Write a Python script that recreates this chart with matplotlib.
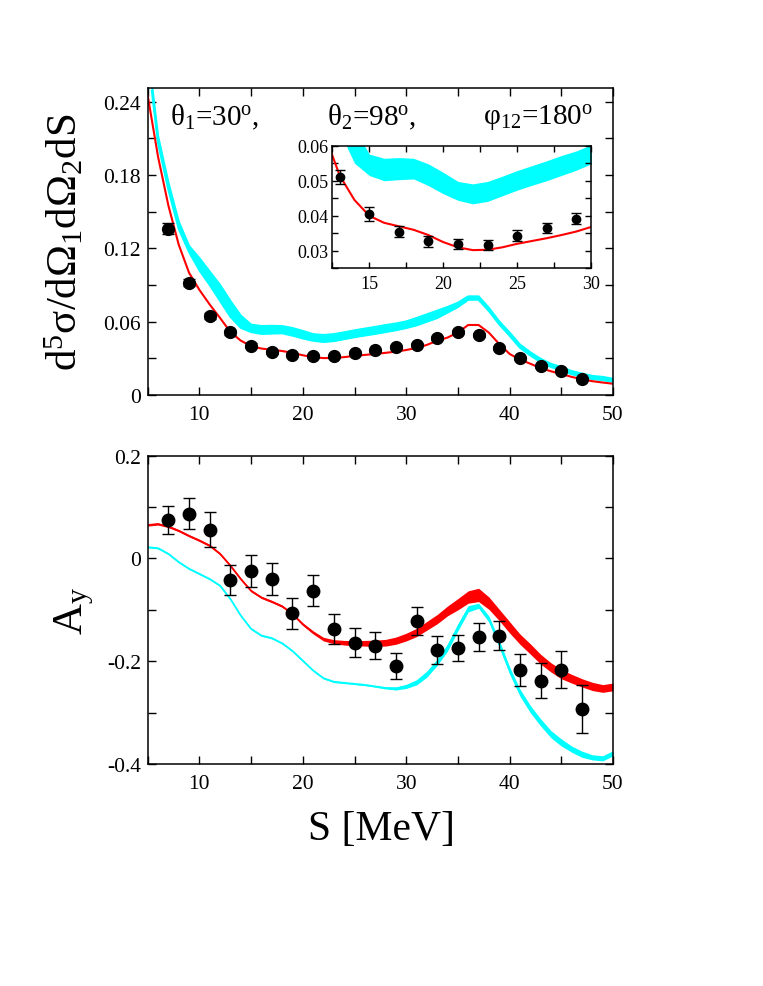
import numpy as np
import matplotlib
matplotlib.use("Agg")
import matplotlib.pyplot as plt
from matplotlib.ticker import MultipleLocator

plt.rcParams['font.family'] = ['Liberation Serif', 'DejaVu Serif']
plt.rcParams['mathtext.fontset'] = 'custom'
plt.rcParams['mathtext.rm'] = 'Liberation Serif'
plt.rcParams['mathtext.it'] = 'Liberation Serif'

# ---- data: cross section (upper panel) ----
s_pts = [7, 9, 11, 13, 15, 17, 19, 21, 23, 25, 27, 29, 31, 33, 35, 37, 39, 41, 43, 45, 47]
xs_pts = [0.136, 0.092, 0.0646, 0.0512, 0.0405, 0.0355, 0.0327, 0.032, 0.0316, 0.0343,
          0.0365, 0.0392, 0.0412, 0.0465, 0.0517, 0.049, 0.0385, 0.030, 0.0234, 0.0197, 0.0129]
xs_err = [0.0045, 0.003, 0.0025, 0.002, 0.0019, 0.0016, 0.0015, 0.0015, 0.0015, 0.0015,
          0.0015, 0.0015, 0.0015, 0.0017, 0.0018, 0.0018, 0.0015, 0.0013, 0.0012, 0.0012, 0.001]

s_red = [5, 6, 7, 8, 9, 10, 11, 12, 13, 14, 15, 16, 17, 18, 19, 20, 21, 22, 23, 24, 25, 26, 27,
         28, 29, 30, 31, 32, 33, 34, 35, 36, 37, 38, 39, 40, 41, 42, 43, 44, 45, 46, 47, 48, 49, 50]
xs_red = [0.245, 0.195, 0.155, 0.123, 0.100, 0.086, 0.074, 0.063, 0.0515, 0.0445, 0.040, 0.038,
          0.037, 0.036, 0.0345, 0.0325, 0.031, 0.0302, 0.0303, 0.031, 0.032, 0.0328, 0.0336,
          0.0345, 0.0355, 0.0368, 0.0385, 0.041, 0.0444, 0.047, 0.0511, 0.0573, 0.0573, 0.051,
          0.0417, 0.0336, 0.029, 0.0256, 0.022, 0.0194, 0.0172, 0.0148, 0.0129, 0.0113, 0.0102, 0.0092]

s_cyan = [5.4, 6, 7, 8, 9, 10, 11, 12, 13, 14, 15, 16, 17, 18, 19, 20, 21, 22, 23, 24, 25, 26,
          27, 28, 29, 30, 31, 32, 33, 34, 35, 36, 37, 38, 39, 40, 41, 42, 43, 44, 45, 46, 47,
          48, 49, 50]
xs_cyan_lo = [0.249, 0.206, 0.168, 0.136, 0.117, 0.102, 0.090, 0.077, 0.064, 0.055, 0.0515,
              0.050, 0.0503, 0.0505, 0.0486, 0.0463, 0.0444, 0.0434, 0.0441, 0.0457, 0.0473,
              0.0487, 0.050, 0.0515, 0.053, 0.0548, 0.057, 0.060, 0.063, 0.0675, 0.072, 0.078,
              0.078, 0.0687, 0.0578, 0.0485, 0.0387, 0.0324, 0.027, 0.0229, 0.0202, 0.017,
              0.0149, 0.013, 0.0122, 0.0107]
xs_cyan_hi = [0.255, 0.212, 0.174, 0.142, 0.122, 0.112, 0.101, 0.090, 0.077, 0.065, 0.0576,
              0.0564, 0.0566, 0.0564, 0.0548, 0.0524, 0.0498, 0.0491, 0.0498, 0.0513, 0.0529,
              0.0543, 0.0557, 0.0572, 0.0585, 0.0602, 0.063, 0.066, 0.069, 0.072, 0.0755, 0.0807,
              0.0807, 0.0713, 0.0602, 0.0511, 0.0413, 0.035, 0.0296, 0.0255, 0.0228, 0.0196,
              0.0175, 0.0156, 0.0148, 0.0133]

# ---- data: analyzing power (lower panel) ----
ay_pts = [0.0754, 0.087, 0.056, -0.042, -0.024, -0.040, -0.107, -0.063, -0.138, -0.164, -0.170,
          -0.209, -0.121, -0.178, -0.174, -0.153, -0.150, -0.217, -0.238, -0.217, -0.293]
ay_err = [0.027, 0.03, 0.034, 0.03, 0.031, 0.031, 0.031, 0.03, 0.029, 0.028, 0.026, 0.026,
          0.027, 0.027, 0.025, 0.028, 0.029, 0.032, 0.034, 0.036, 0.047]

s_ay = [5, 6, 7, 8, 9, 10, 11, 12, 13, 14, 15, 16, 17, 18, 19, 20, 21, 22, 23, 24, 25, 26, 27,
        28, 29, 30, 31, 32, 33, 34, 35, 36, 37, 38, 39, 40, 41, 42, 43, 44, 45, 46, 47, 48, 49, 50]
ay_red = [0.065, 0.067, 0.062, 0.054, 0.044, 0.035, 0.025, 0.009, -0.014, -0.040, -0.063, -0.076,
          -0.084, -0.093, -0.108, -0.128, -0.144, -0.157, -0.162, -0.164, -0.165, -0.165, -0.165,
          -0.164, -0.160, -0.153, -0.144, -0.131, -0.118, -0.102, -0.089, -0.075, -0.071, -0.087,
          -0.110, -0.134, -0.157, -0.176, -0.196, -0.212, -0.225, -0.234, -0.242, -0.249, -0.253,
          -0.250]
ay_red_w = [0.002] * 15 + [0.0025, 0.003, 0.0035, 0.004, 0.0045, 0.005, 0.0055, 0.006, 0.0065,
                           0.007, 0.0075, 0.008, 0.0085, 0.009, 0.0095, 0.011, 0.012, 0.013,
                           0.012, 0.011, 0.011, 0.01, 0.01, 0.0095, 0.009, 0.009, 0.0085, 0.008,
                           0.008, 0.0075, 0.0075]
ay_cyan = [0.022, 0.020, 0.009, -0.007, -0.020, -0.030, -0.040, -0.053, -0.079, -0.111, -0.137,
           -0.150, -0.155, -0.165, -0.180, -0.199, -0.218, -0.233, -0.240, -0.242, -0.244, -0.246,
           -0.249, -0.252, -0.253, -0.249, -0.241, -0.225, -0.202, -0.173, -0.134, -0.098, -0.092,
           -0.118, -0.166, -0.218, -0.261, -0.293, -0.319, -0.342, -0.358, -0.371, -0.381, -0.387,
           -0.389, -0.379]
ay_cyan_w = [0.0015] * 23 + [0.002, 0.003, 0.004, 0.005, 0.006, 0.006, 0.007, 0.007, 0.006, 0.005,
                             0.006, 0.007, 0.007, 0.007, 0.007, 0.007, 0.007, 0.007, 0.006, 0.006,
                             0.005, 0.005, 0.005]

CYAN = '#00ffff'
RED = '#ff0000'


def style_axes(ax, xmaj, xmin, ymaj, ymin, size=15.5, pad=5):
    ax.xaxis.set_major_locator(MultipleLocator(xmaj))
    ax.xaxis.set_minor_locator(MultipleLocator(xmin))
    ax.yaxis.set_major_locator(MultipleLocator(ymaj))
    ax.yaxis.set_minor_locator(MultipleLocator(ymin))
    ax.tick_params(which='both', direction='in', top=True, right=True, width=1.0,
                   labelsize=size)
    ax.tick_params(which='major', length=6)
    ax.tick_params(which='minor', length=6)
    ax.tick_params(axis='x', pad=pad + 2)
    ax.tick_params(axis='y', pad=pad)
    for sp in ax.spines.values():
        sp.set_linewidth(1.1)


fig = plt.figure(figsize=(7.63, 9.87), dpi=100)

# ---- upper panel ----
ax1 = fig.add_axes([0.1936, 0.5988, 0.6098, 0.3107])
ax1.fill_between(s_cyan, xs_cyan_lo, xs_cyan_hi, color=CYAN, lw=0)
ax1.plot(s_cyan, xs_cyan_lo, color=CYAN, lw=1.5)
ax1.plot(s_cyan, xs_cyan_hi, color=CYAN, lw=1.5)
ax1.plot(s_red, xs_red, color=RED, lw=1.5)
ax1.errorbar(s_pts, xs_pts, yerr=xs_err, fmt='o', color='black', ms=8.5,
             capsize=4.5, elinewidth=1.0, capthick=1.0)
ax1.set_xlim(5, 50)
ax1.set_ylim(0, 0.251)
style_axes(ax1, 10, 5, 0.06, 0.03)
ax1.set_yticks([0, 0.06, 0.12, 0.18, 0.24])
ax1.set_yticklabels(['0', '0.06', '0.12', '0.18', '0.24'])

ax1.text(0.048, 0.884, r'θ$_1$=30$^{\rm o}$,', transform=ax1.transAxes, fontsize=21,
         va='baseline')
ax1.text(0.385, 0.884, r'θ$_2$=98$^{\rm o}$,', transform=ax1.transAxes, fontsize=21,
         va='baseline')
ax1.text(0.721, 0.884, r'φ$_{12}$=180$^{\rm o}$', transform=ax1.transAxes, fontsize=21,
         va='baseline')

# ---- inset ----
axi = fig.add_axes([0.4355, 0.7271, 0.3391, 0.1243])
axi.fill_between(s_cyan, xs_cyan_lo, xs_cyan_hi, color=CYAN, lw=0)
axi.plot(s_red, xs_red, color=RED, lw=1.5)
axi.errorbar(s_pts, xs_pts, yerr=xs_err, fmt='o', color='black', ms=6,
             capsize=3.5, elinewidth=1.0, capthick=1.0)
axi.set_xlim(12.5, 30)
axi.set_ylim(0.025, 0.06)
style_axes(axi, 5, 2.5, 0.01, 0.005, size=13, pad=3)
axi.tick_params(which='both', length=4)
axi.set_yticks([0.03, 0.04, 0.05, 0.06])
axi.set_yticklabels(['0.03', '0.04', '0.05', '0.06'])

# ---- lower panel ----
ay_cyan_a = np.array(ay_cyan)
ay_cyan_wa = np.array(ay_cyan_w)
ay_red_a = np.array(ay_red)
ay_red_wa = np.array(ay_red_w)

ax2 = fig.add_axes([0.1936, 0.2249, 0.6098, 0.3124])
ax2.fill_between(s_ay, ay_cyan_a - ay_cyan_wa, ay_cyan_a + ay_cyan_wa, color=CYAN, lw=0)
ax2.plot(s_ay, ay_cyan, color=CYAN, lw=1.3)
ax2.fill_between(s_ay, ay_red_a - ay_red_wa, ay_red_a + ay_red_wa, color=RED, lw=0)
ax2.plot(s_ay, ay_red, color=RED, lw=1.3)
ax2.errorbar(s_pts, ay_pts, yerr=ay_err, fmt='o', color='black', ms=9,
             capsize=4.3, elinewidth=1.0, capthick=1.0)
ax2.set_xlim(5, 50)
ax2.set_ylim(-0.4, 0.2)
style_axes(ax2, 10, 5, 0.2, 0.1)
ax2.set_yticks([-0.4, -0.2, 0, 0.2])
ax2.set_yticklabels(['-0.4', '-0.2', '0', '0.2'])

# ---- axis titles ----
fig.text(0.085, 0.754, r'd$^5$σ/dΩ$_1$dΩ$_2$dS', rotation=90, fontsize=31,
         ha='center', va='center')
fig.text(0.097, 0.381, r'A$_{\rm y}$', rotation=90, fontsize=31, ha='center', va='center')
fig.text(0.5003, 0.159, 'S [MeV]', fontsize=30, ha='center', va='center')

fig.savefig('out.png', dpi=100)
